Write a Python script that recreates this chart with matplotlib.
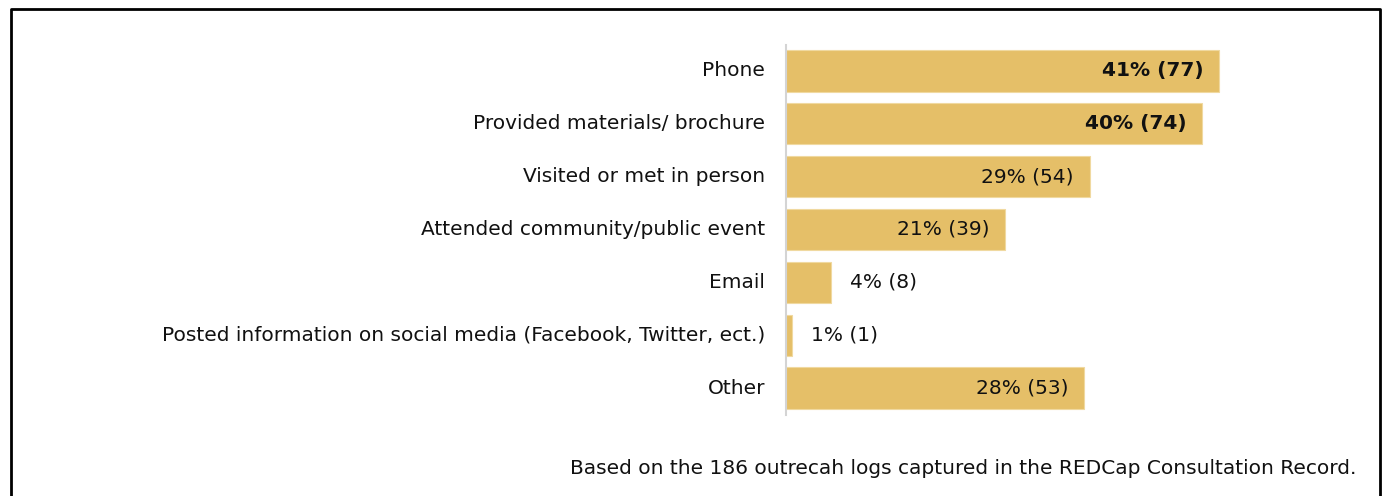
import matplotlib
matplotlib.use("Agg")
import matplotlib.pyplot as plt
from matplotlib.lines import Line2D

# Outreach methods and number of logs using each
categories = [
    "Phone",
    "Provided materials/ brochure",
    "Visited or met in person",
    "Attended community/public event",
    "Email",
    "Posted information on social media (Facebook, Twitter, ect.)",
    "Other",
]
counts = [77, 74, 54, 39, 8, 1, 53]
total_logs = 186
bold_labels = [True, True, False, False, False, False, False]
inside_labels = [True, True, True, True, False, False, True]

BAR_COLOR = "#E5BF68"
FONT = "DejaVu Sans"
FS = 14.5

W, H = 1386, 496
fig = plt.figure(figsize=(W / 100, H / 100), dpi=100)
fig.patch.set_facecolor("white")

ax_left, ax_right = 786, 1236
ax_top, ax_bottom = 45, 415
ax = fig.add_axes([ax_left / W, 1 - ax_bottom / H,
                   (ax_right - ax_left) / W, (ax_bottom - ax_top) / H])

pct = [c / total_logs * 100 for c in counts]
ypos = list(range(len(categories)))
ax.barh(ypos, pct, height=0.78, color=BAR_COLOR, edgecolor="#F0D9A0", linewidth=0.8)
ax.set_ylim(6.51, -0.49)
ax.set_xlim(0, 80 / total_logs * 100)

for sp in ["top", "right", "bottom"]:
    ax.spines[sp].set_visible(False)
ax.spines["left"].set_color("#D4D4D4")
ax.spines["left"].set_linewidth(1.5)
ax.set_xticks([])
ax.set_yticks(ypos)
ax.set_yticklabels(categories, fontsize=FS, family=FONT, color="#111111", va="center")
ax.tick_params(axis="y", length=0, pad=15)

for y, p, c, b, inside in zip(ypos, pct, counts, bold_labels, inside_labels):
    label = f"{round(p)}% ({c})"
    weight = "semibold" if b else "normal"
    if inside:
        ax.annotate(label, (p, y), xytext=(-11.5, 0), textcoords="offset points",
                    ha="right", va="center", fontsize=FS, family=FONT,
                    fontweight=weight, color="#111111")
    else:
        ax.annotate(label, (p, y), xytext=(14, 0), textcoords="offset points",
                    ha="left", va="center", fontsize=FS, family=FONT,
                    fontweight=weight, color="#111111")

fig.text(1356 / W, 1 - 468 / H,
         "Based on the 186 outrecah logs captured in the REDCap Consultation Record.",
         ha="right", va="center", fontsize=FS, family=FONT, color="#111111")

# Open-bottomed frame around the panel
x0, x1, y0 = 11 / W, 1380 / W, 1 - 8.5 / H
fig.add_artist(Line2D([x0, x0, x1, x1], [-0.05, y0, y0, -0.05],
                      transform=fig.transFigure, color="black", linewidth=2))

fig.savefig("out.png", dpi=100, facecolor="white")
